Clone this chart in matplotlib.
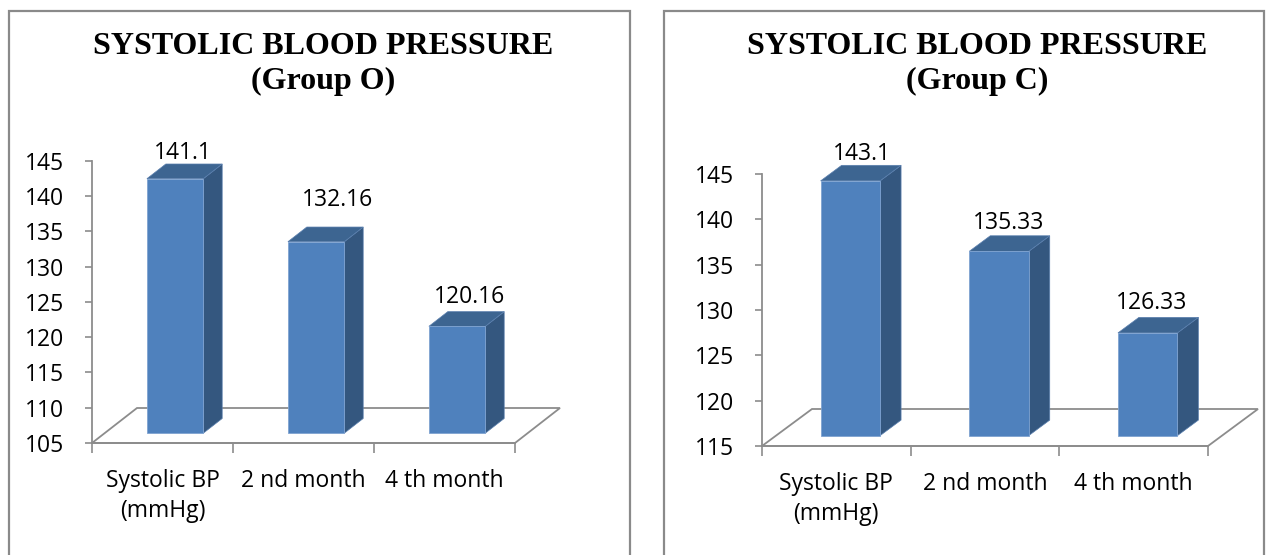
import matplotlib
matplotlib.use('Agg')
import matplotlib.pyplot as plt
from matplotlib.patches import Polygon, Rectangle

categories = ['Systolic BP\n(mmHg)', '2 nd month', '4 th month']
group_o_values = [141.1, 132.16, 120.16]
group_c_values = [143.1, 135.33, 126.33]
group_o_ticks = [105, 110, 115, 120, 125, 130, 135, 140, 145]
group_c_ticks = [115, 120, 125, 130, 135, 140, 145]
group_o_labels = ['141.1', '132.16', '120.16']
group_c_labels = ['143.1', '135.33', '126.33']

W, H = 1266, 555
FRONT = '#4F81BD'
SIDE = '#34577F'
TOP = '#3D6591'
GREY = '#8C8C8C'

plt.rcParams['font.family'] = ['Open Sans', 'DejaVu Sans']

fig = plt.figure(figsize=(W / 100, H / 100), dpi=100)
fig.patch.set_facecolor('white')


def px_box(x0, y0, x1, y1):
    # pixel box (top-left origin) -> figure fraction rect
    return [x0 / W, 1 - y1 / H, (x1 - x0) / W, (y1 - y0) / H]


def draw_panel(box, frame, title_x, group, values, labels, ticks, depth_px, label_off):
    # panel frame
    fx0, fy0, fx1 = frame
    fig.patches.append(Rectangle((fx0 / W, -0.05), (fx1 - fx0) / W, 1.05 - fy0 / H,
                                 transform=fig.transFigure, fill=False,
                                 edgecolor='#8A8A8A', lw=1.6))
    fig.text(title_x / W, 1 - 46 / H, 'SYSTOLIC BLOOD PRESSURE', ha='center', va='center',
             family='Liberation Serif', fontweight='bold', fontsize=23)
    fig.text(title_x / W, 1 - 81 / H, '(Group %s)' % group, ha='center', va='center',
             family='Liberation Serif', fontweight='bold', fontsize=23)

    ax = fig.add_axes(px_box(*box))
    ymin, ymax = ticks[0], ticks[-1]
    n = len(values)
    ax.set_xlim(0, n)
    ax.set_ylim(ymin, ymax)
    ax.patch.set_alpha(0)

    w_px = box[2] - box[0]
    h_px = box[3] - box[1]
    ddx = depth_px[0] * n / w_px
    ddy = depth_px[1] * (ymax - ymin) / h_px

    # floor
    floor = Polygon([(0, ymin), (n, ymin), (n + ddx, ymin + ddy), (ddx, ymin + ddy)],
                    closed=True, facecolor='white', edgecolor=GREY, lw=1.3,
                    clip_on=False, zorder=1)
    ax.add_patch(floor)

    f0, f1 = 0.28, 0.70
    half = 0.2
    for i, v in enumerate(values):
        x0 = i + 0.5 - half + f0 * ddx
        x1 = i + 0.5 + half + f0 * ddx
        b0 = ymin + f0 * ddy
        t0 = v + f0 * ddy
        sx = (f1 - f0) * ddx
        sy = (f1 - f0) * ddy
        side = Polygon([(x1, b0), (x1 + sx, b0 + sy), (x1 + sx, t0 + sy), (x1, t0)],
                       facecolor=SIDE, edgecolor='#5A7FAE', lw=0.5, clip_on=False, zorder=3)
        top = Polygon([(x0, t0), (x1, t0), (x1 + sx, t0 + sy), (x0 + sx, t0 + sy)],
                      facecolor=TOP, edgecolor='#5A7FAE', lw=0.5, clip_on=False, zorder=3)
        front = Polygon([(x0, b0), (x1, b0), (x1, t0), (x0, t0)],
                        facecolor=FRONT, edgecolor='#7FA3D1', lw=0.6, clip_on=False, zorder=4)
        ax.add_patch(side)
        ax.add_patch(top)
        ax.add_patch(front)
        ax.annotate(labels[i], xy=((x0 + x1) / 2, t0), xytext=label_off[i],
                    textcoords='offset pixels', ha='center', va='center',
                    fontsize=16.5, color='black', annotation_clip=False, zorder=5)

    for s in ['top', 'right']:
        ax.spines[s].set_visible(False)
    ax.spines['left'].set_color(GREY)
    ax.spines['left'].set_linewidth(1.3)
    ax.spines['bottom'].set_color(GREY)
    ax.spines['bottom'].set_linewidth(1.3)
    ax.spines['bottom'].set_zorder(2)

    ax.set_yticks(ticks)
    ax.set_yticklabels([str(t) for t in ticks])
    ax.tick_params(axis='y', direction='out', length=5, width=1.2, color=GREY,
                   labelsize=16.5, pad=15, labelcolor='black')

    ax.set_xticks(range(n + 1))
    ax.set_xticklabels([])
    ax.set_xticks([i + 0.5 for i in range(n)], minor=True)
    ax.set_xticklabels(categories, minor=True, linespacing=1.3)
    ax.tick_params(axis='x', which='major', direction='out', length=7, width=1.2, color=GREY)
    ax.tick_params(axis='x', which='minor', length=0, labelsize=16.5, pad=19,
                   labelcolor='black')
    for t in ax.get_xticklabels(minor=True):
        t.set_verticalalignment('top')
    return ax


draw_panel((92, 161, 515, 443), (9, 11, 630), 323, 'O', group_o_values, group_o_labels,
           group_o_ticks, (45, 35), [(8, 26), (21, 42), (12, 29)])
draw_panel((762, 174, 1208, 446), (664, 11, 1264), 977, 'C', group_c_values, group_c_labels,
           group_c_ticks, (50, 37), [(12, 27), (10, 28), (4, 30)])

plt.savefig('out.png', dpi=100)
